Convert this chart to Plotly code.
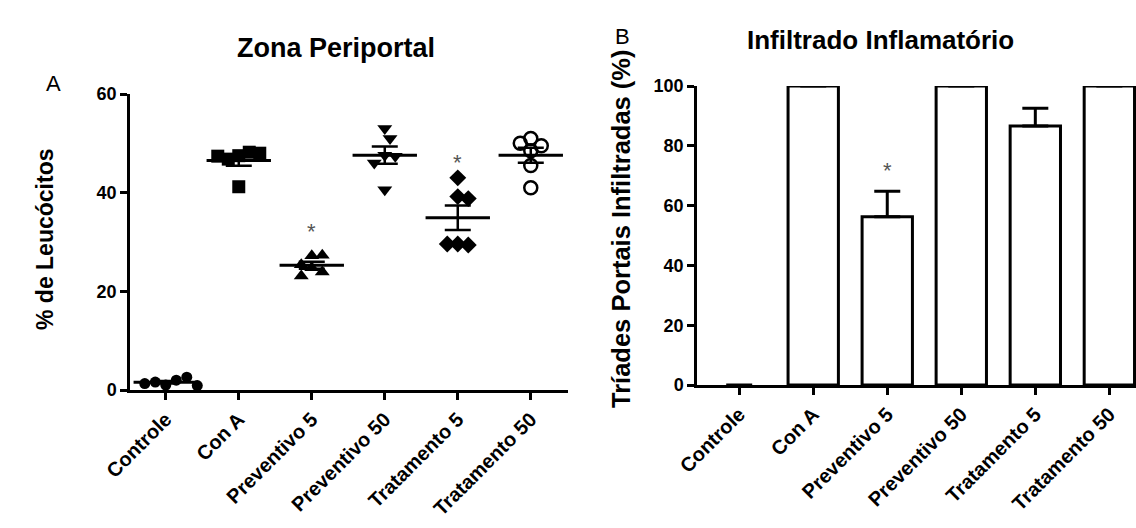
import numpy as np
import plotly.graph_objects as go

# ---------------- data ----------------
categories = ["Controle", "Con A", "Preventivo 5", "Preventivo 50", "Tratamento 5", "Tratamento 50"]

# Panel A: % de Leucócitos (individual animals)
controle = [1.0, 2.0, 1.6, 2.6, 1.3, 0.9]
con_a = [47.5, 48.2, 46.8, 48.0, 47.4, 41.2]
preventivo_5 = [27.2, 27.3, 25.4, 24.8, 23.9, 23.1]
preventivo_50 = [53.0, 51.0, 47.6, 47.4, 46.0, 40.6]
tratamento_5 = [43.0, 39.2, 38.8, 29.6, 29.4, 29.6]
tratamento_50 = [48.5, 49.5, 51.0, 50.0, 45.5, 41.0]
zona_groups = [controle, con_a, preventivo_5, preventivo_50, tratamento_5, tratamento_50]
zona_symbols = ["circle", "square", "triangle-up", "triangle-down", "diamond", "circle-open"]
zona_star_groups = ["Preventivo 5", "Tratamento 5"]
zona_star_y = [33, 47]

# Panel B: Tríades Portais Infiltradas (%)
infiltrado_mean = [0, 100, 56.3, 100, 86.6, 100]
infiltrado_sem = [0, 0, 8.5, 0, 6.0, 0]
infil_star_groups = ["Preventivo 5"]
infil_star_y = [73]

# ---------------- layout geometry ----------------
W, H = 1136, 528
FONT = "Liberation Sans, Arial, sans-serif"

A_x = (130, 568)
A_y = (390, 94)
A_xrange = [-0.49, 5.51]
A_yrange = [0, 60]

B_x = (697, 1136)
B_y = (385, 86)
B_xrange = [-0.57, 5.36]
B_yrange = [0, 100]

px_x = (A_x[1] - A_x[0]) / (A_xrange[1] - A_xrange[0])
px_y = (A_y[0] - A_y[1]) / (A_yrange[1] - A_yrange[0])


def swarm(values, d=10.5):
    placed, offs = [], []
    cands = [0.0]
    for i in range(1, 30):
        cands += [i * 0.5 * d, -i * 0.5 * d]
    for v in values:
        for c in cands:
            if all((c - ox) ** 2 + ((v - oy) * px_y) ** 2 >= d * d for ox, oy in placed):
                break
        placed.append((c, v))
        offs.append(c / px_x)
    return offs


fig = go.Figure()

# ---- Panel A scatter ----
for i, (vals, sym) in enumerate(zip(zona_groups, zona_symbols)):
    offs = swarm(vals)
    xs = [i + o for o in offs]
    is_open = sym.endswith("open")
    fig.add_trace(go.Scatter(
        x=xs, y=vals, mode="markers", xaxis="x", yaxis="y",
        marker=dict(symbol=sym, size=13 if sym != "circle" else 11,
                    color="black",
                    line=dict(color="black", width=2.5 if is_open else 0)),
        cliponaxis=False, showlegend=False, hoverinfo="y"))

means = [float(np.mean(v)) for v in zona_groups]
sems = [float(np.std(v, ddof=1) / np.sqrt(len(v))) for v in zona_groups]
fig.add_trace(go.Scatter(
    x=list(range(len(categories))), y=means, mode="markers", xaxis="x", yaxis="y",
    marker=dict(symbol="line-ew", size=46, color="black", line=dict(color="black", width=3)),
    error_y=dict(type="data", array=sems, symmetric=True, width=13, thickness=2.5, color="black"),
    cliponaxis=False, showlegend=False, hoverinfo="y"))

# ---- Panel B bars ----
fig.add_trace(go.Bar(
    x=list(range(len(categories))), y=infiltrado_mean, xaxis="x2", yaxis="y2",
    width=0.68,
    marker=dict(color="white",
                line=dict(color="black", width=[3 if v > 0 else 0 for v in infiltrado_mean])),
    error_y=dict(type="data", symmetric=False, array=infiltrado_sem,
                 arrayminus=[0] * len(categories), width=13, thickness=3, color="black"),
    cliponaxis=False, showlegend=False))

axis_common = dict(showline=True, linecolor="black", linewidth=2.5, showgrid=False,
                   zeroline=False, ticks="outside", ticklen=7, tickwidth=2.5, tickcolor="black",
                   automargin=False)
xtick_font = dict(family=FONT, size=20, color="black", weight="bold")
ytick_font = dict(family=FONT, size=18, color="black", weight="bold")

fig.update_layout(
    template="none",
    width=W, height=H, margin=dict(l=0, r=0, t=0, b=0, autoexpand=False),
    paper_bgcolor="white", plot_bgcolor="white",
    xaxis=dict(domain=[A_x[0] / W, A_x[1] / W], range=A_xrange, anchor="y",
               tickvals=list(range(len(categories))), ticktext=categories,
               tickangle=-45, tickfont=xtick_font, **axis_common),
    yaxis=dict(domain=[(H - A_y[0]) / H, (H - A_y[1]) / H], range=A_yrange, anchor="x",
               tickvals=[0, 20, 40, 60], tickfont=ytick_font, **axis_common),
    xaxis2=dict(domain=[B_x[0] / W, B_x[1] / W], range=B_xrange, anchor="y2",
                tickvals=list(range(len(categories))), ticktext=categories,
                tickangle=-45, tickfont=xtick_font, **axis_common),
    yaxis2=dict(domain=[(H - B_y[0]) / H, (H - B_y[1]) / H], range=B_yrange, anchor="x2",
                tickvals=[0, 20, 40, 60, 80, 100], tickfont=ytick_font, **axis_common),
)


def paper_text(text, x, y, size, bold=True, angle=0):
    return dict(text=text, x=x / W, y=(H - y) / H, xref="paper", yref="paper",
                xanchor="center", yanchor="middle", textangle=angle, showarrow=False,
                font=dict(family=FONT, size=size, color="black",
                          weight="bold" if bold else "normal"))


ann = [
    paper_text("Zona Periportal", 336, 48, 27),
    paper_text("Infiltrado Inflamatório", 880, 40, 26),
    paper_text("A", 53, 83, 22, bold=False),
    paper_text("B", 622, 36, 22, bold=False),
    paper_text("% de Leucócitos", 45, 240, 23, angle=-90),
    paper_text("Tríades Portais Infiltradas (%)", 621, 229, 25.5, angle=-90),
]
# significance stars
for g, yv in zip(zona_star_groups, zona_star_y):
    ann.append(dict(text="*", x=categories.index(g), y=yv, xref="x", yref="y", showarrow=False,
                    xanchor="center", yanchor="middle", yshift=-4,
                    font=dict(family=FONT, size=22, color="#555555")))
for g, yv in zip(infil_star_groups, infil_star_y):
    ann.append(dict(text="*", x=categories.index(g), y=yv, xref="x2", yref="y2", showarrow=False,
                    xanchor="center", yanchor="middle", yshift=-4,
                    font=dict(family=FONT, size=22, color="#555555")))
fig.update_layout(annotations=ann)

fig.write_html("out.html", config={"displayModeBar": False},
               post_script="document.body.style.margin='0';")
